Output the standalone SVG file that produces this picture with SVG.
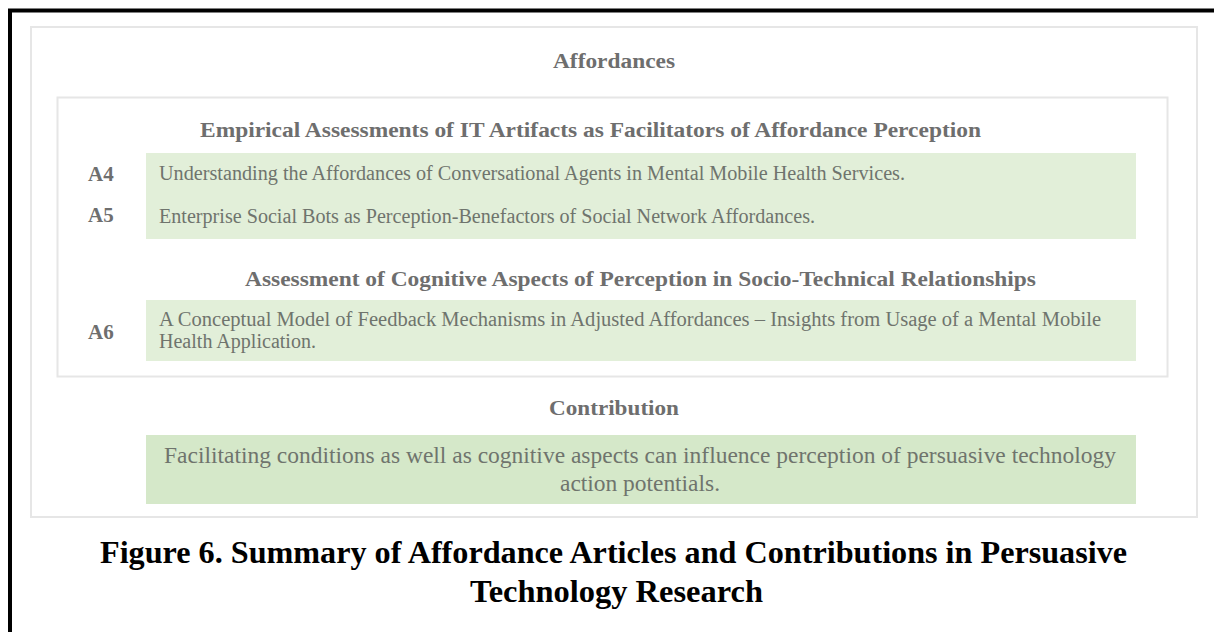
<svg xmlns="http://www.w3.org/2000/svg" width="1214" height="632" viewBox="0 0 1214 632">
<style>
.frame{fill:none;stroke:#e6e6e6;stroke-width:2}
.g1{fill:#e2efd9}
.g3{fill:#d5e8c9}
.hd{font-family:"Liberation Serif",serif;font-weight:bold;fill:#6e6e6e}
.lab{font-family:"Liberation Serif",serif;font-weight:bold;fill:#6e6e6e;font-size:21px}
.txt{font-family:"Liberation Serif",serif;fill:#6f746d;font-size:20px}
.big{font-size:23.5px}
.cap{font-family:"Liberation Serif",serif;font-weight:bold;fill:#000;font-size:32.5px}
</style>
<rect width="1214" height="632" fill="#fff"/>
<path d="M10 632 V10.5 H1214" fill="none" stroke="#000" stroke-width="4"/>
<rect class="frame" x="31" y="27" width="1166" height="490"/>
<g id="affordances">
<text class="hd" x="614" y="68" font-size="20" text-anchor="middle" textLength="122" lengthAdjust="spacingAndGlyphs">Affordances</text>
<rect class="frame" x="57.5" y="97.5" width="1110" height="279"/>
</g>
<g id="section1">
<text class="hd" x="590.5" y="137" font-size="22" text-anchor="middle" textLength="781" lengthAdjust="spacingAndGlyphs">Empirical Assessments of IT Artifacts as Facilitators of Affordance Perception</text>
<rect class="g1" x="146" y="153" width="990" height="86"/>
</g>
<g id="A4">
<text class="lab" x="88" y="181">A4</text>
<text class="txt" x="159" y="180" textLength="746" lengthAdjust="spacingAndGlyphs">Understanding the Affordances of Conversational Agents in Mental Mobile Health Services.</text>
</g>
<g id="A5">
<text class="lab" x="88" y="222">A5</text>
<text class="txt" x="159" y="223" textLength="656" lengthAdjust="spacingAndGlyphs">Enterprise Social Bots as Perception-Benefactors of Social Network Affordances.</text>
</g>
<g id="section2">
<text class="hd" x="640.5" y="286" font-size="22" text-anchor="middle" textLength="791" lengthAdjust="spacingAndGlyphs">Assessment of Cognitive Aspects of Perception in Socio-Technical Relationships</text>
<rect class="g1" x="146" y="300" width="990" height="61"/>
</g>
<g id="A6">
<text class="lab" x="88" y="339">A6</text>
<text class="txt" x="159" y="326" textLength="942" lengthAdjust="spacingAndGlyphs">A Conceptual Model of Feedback Mechanisms in Adjusted Affordances – Insights from Usage of a Mental Mobile</text>
<text class="txt" x="159" y="348" textLength="157" lengthAdjust="spacingAndGlyphs">Health Application.</text>
</g>
<g id="contribution">
<text class="hd" x="614" y="415" font-size="21" text-anchor="middle" textLength="130" lengthAdjust="spacingAndGlyphs">Contribution</text>
<rect class="g3" x="146" y="435" width="990" height="69"/>
<text class="txt big" x="640" y="463" text-anchor="middle" textLength="952" lengthAdjust="spacingAndGlyphs">Facilitating conditions as well as cognitive aspects can influence perception of persuasive technology</text>
<text class="txt big" x="640" y="491" text-anchor="middle" textLength="160" lengthAdjust="spacingAndGlyphs">action potentials.</text>
</g>
<g id="caption">
<text class="cap" x="613.5" y="563" text-anchor="middle" textLength="1027" lengthAdjust="spacingAndGlyphs">Figure 6. Summary of Affordance Articles and Contributions in Persuasive</text>
<text class="cap" x="616.5" y="602" text-anchor="middle" textLength="293" lengthAdjust="spacingAndGlyphs">Technology Research</text>
</g>
</svg>
